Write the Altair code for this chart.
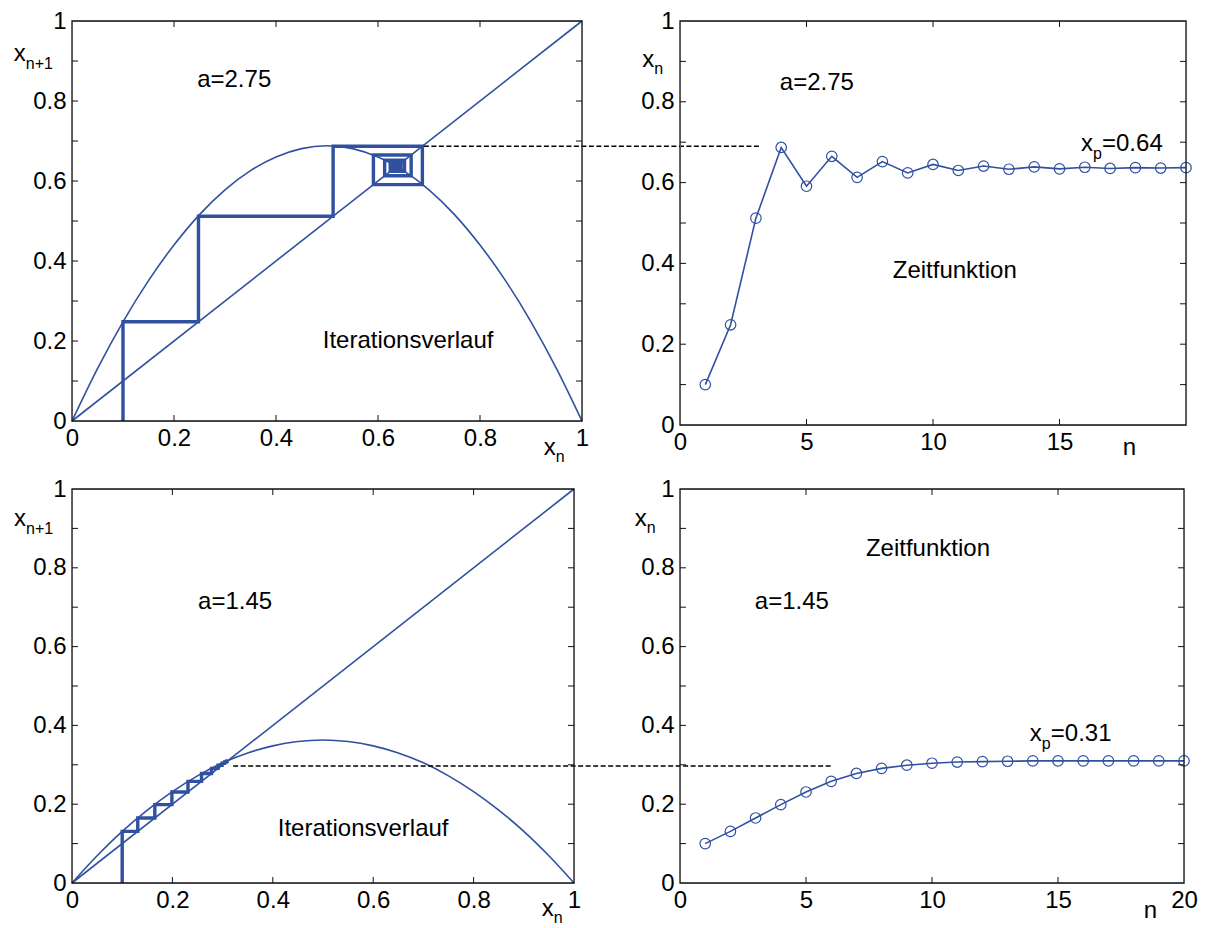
import altair as alt
import pandas as pd

BLUE = "#3050a0"
FONT = "Liberation Sans"
FS = 24      # main font size
FSUB = 16    # subscript size

# ---------------- data ----------------
curve_x = [0, 0.05, 0.1, 0.15, 0.2, 0.25, 0.3, 0.35, 0.4, 0.45, 0.5,
           0.55, 0.6, 0.65, 0.7, 0.75, 0.8, 0.85, 0.9, 0.95, 1.0]
curve_top = [0, 0.131, 0.248, 0.351, 0.44, 0.516, 0.578, 0.626, 0.66, 0.681, 0.688,
             0.681, 0.66, 0.626, 0.578, 0.516, 0.44, 0.351, 0.248, 0.131, 0]
curve_bot = [0, 0.069, 0.131, 0.185, 0.232, 0.272, 0.305, 0.33, 0.348, 0.359, 0.363,
             0.359, 0.348, 0.33, 0.305, 0.272, 0.232, 0.185, 0.131, 0.069, 0]
diag_x = [0, 1]
diag_y = [0, 1]

n_values = list(range(1, 21))
series_top = [0.1, 0.248, 0.512, 0.687, 0.591, 0.665, 0.613, 0.652, 0.624, 0.645,
              0.630, 0.641, 0.633, 0.639, 0.634, 0.638, 0.635, 0.637, 0.636, 0.637]
series_bot = [0.1, 0.131, 0.165, 0.199, 0.231, 0.258, 0.278, 0.291, 0.299, 0.304,
              0.307, 0.308, 0.309, 0.310, 0.310, 0.310, 0.310, 0.310, 0.310, 0.310]

# dashed connector lines (in the left panel's units)
dash_top_x = [0.69, 1.351]
dash_top_y = [0.687, 0.687]
dash_bot_x = [0.321, 1.512]
dash_bot_y = [0.297, 0.297]

map_labels = [0, 0.2, 0.4, 0.6, 0.8, 1]
map_xticks = [0.2, 0.4, 0.6, 0.8]
y_ticks = [0.1, 0.2, 0.3, 0.4, 0.5, 0.6, 0.7, 0.8, 0.9]
ts_labels_top = [0, 5, 10, 15]
ts_labels_bot = [0, 5, 10, 15, 20]
ts_xticks = [5, 10, 15]

# panel sizes
TL_W, TL_H = 510, 400
TR_W, TR_H = 506, 404
BL_W, BL_H = 502, 394
BR_W, BR_H = 504, 394


def enc_x(domain, labels):
    return alt.X("x:Q", scale=alt.Scale(domain=domain, nice=False, zero=False),
                 axis=alt.Axis(values=labels, format="~g", ticks=False, domain=False,
                               grid=False, labelFontSize=FS, labelFont=FONT,
                               labelColor="black", labelPadding=5, labelFlush=False,
                               labelOverlap=False, title=None))


def enc_y():
    return alt.Y("y:Q", scale=alt.Scale(domain=[0, 1], nice=False, zero=False),
                 axis=alt.Axis(values=[0, 0.2, 0.4, 0.6, 0.8, 1], format="~g", ticks=False,
                               domain=False, grid=False, labelFontSize=FS, labelFont=FONT,
                               labelColor="black", labelPadding=6, labelOverlap=False,
                               title=None))


def frame_and_ticks(xt, W, H, X, Y):
    dx = pd.DataFrame({"x": xt})
    dy = pd.DataFrame({"y": y_ticks})
    st = dict(color="#111111", strokeWidth=1)
    box = alt.Chart(pd.DataFrame({"k": [0]})).mark_rect(
        fill=None, stroke="#111111", strokeWidth=1.3).encode(
        x=alt.value(0), x2=alt.value(W), y=alt.value(0), y2=alt.value(H))
    return [
        box,
        alt.Chart(dx).mark_rule(**st).encode(x=X, y=alt.value(H), y2=alt.value(H - 6)),
        alt.Chart(dx).mark_rule(**st).encode(x=X, y=alt.value(0), y2=alt.value(6)),
        alt.Chart(dy).mark_rule(**st).encode(y=Y, x=alt.value(0), x2=alt.value(6)),
        alt.Chart(dy).mark_rule(**st).encode(y=Y, x=alt.value(W), x2=alt.value(W - 6)),
    ]


def text(X, Y, xs, ys, labels, size=FS, align="left", baseline="alphabetic", dx=0, dy=0):
    df = pd.DataFrame({"x": xs, "y": ys, "t": labels})
    return alt.Chart(df).mark_text(font=FONT, fontSize=size, align=align, baseline=baseline,
                                   dx=dx, dy=dy, color="black").encode(x=X, y=Y, text="t:N")


def cobweb_path(s):
    xs, ys = [s[0]], [0.0]
    for i in range(len(s) - 1):
        xs += [s[i], s[i + 1]]
        ys += [s[i + 1], s[i + 1]]
    return pd.DataFrame({"x": xs, "y": ys, "i": list(range(len(xs)))})


def map_panel(curve, series, dash_x, dash_y, W, H, a_txt, a_pos, it_pos, ylab_pos, xlab_pos):
    X = enc_x([0, 1], map_labels)
    Y = enc_y()
    diag = alt.Chart(pd.DataFrame({"x": diag_x, "y": diag_y})).mark_line(
        color=BLUE, strokeWidth=1.6).encode(x=X, y=Y)
    par = alt.Chart(pd.DataFrame({"x": curve_x, "y": curve})).mark_line(
        color=BLUE, strokeWidth=1.6, interpolate="monotone").encode(x=X, y=Y)
    web = alt.Chart(cobweb_path(series)).mark_line(
        color=BLUE, strokeWidth=3.4, strokeJoin="miter").encode(x=X, y=Y, order="i:Q")
    dash = alt.Chart(pd.DataFrame({"x": dash_x, "y": dash_y})).mark_line(
        color="black", strokeWidth=1.6, strokeDash=[5, 2.5], clip=False).encode(x=X, y=Y)
    layers = [diag, par, web, dash] + frame_and_ticks(map_xticks, W, H, X, Y)
    layers += [
        text(X, Y, [a_pos[0]], [a_pos[1]], [a_txt], align="center", baseline="middle"),
        text(X, Y, [it_pos[0]], [it_pos[1]], ["Iterationsverlauf"], align="center", baseline="middle"),
        text(X, Y, [ylab_pos[0]], [ylab_pos[1]], ["x"]),
        text(X, Y, [ylab_pos[0]], [ylab_pos[1]], ["n+1"], size=FSUB, dx=12, dy=8),
        text(X, Y, [xlab_pos[0]], [xlab_pos[1]], ["x"]),
        text(X, Y, [xlab_pos[0]], [xlab_pos[1]], ["n"], size=FSUB, dx=12, dy=7),
    ]
    return alt.layer(*layers).properties(width=W, height=H)


def ts_panel(series, labels, W, H, a_txt, a_pos, z_pos, xp_txt, xp_pos, ylab_pos, n_pos):
    X = enc_x([0, 20], labels)
    Y = enc_y()
    df = pd.DataFrame({"x": n_values, "y": series})
    line = alt.Chart(df).mark_line(color=BLUE, strokeWidth=1.6).encode(x=X, y=Y)
    pts = alt.Chart(df).mark_point(shape="circle", filled=False, color=BLUE, size=110,
                                   strokeWidth=1.2, opacity=1).encode(x=X, y=Y)
    layers = [line, pts] + frame_and_ticks(ts_xticks, W, H, X, Y)
    layers += [
        text(X, Y, [a_pos[0]], [a_pos[1]], [a_txt], align="center", baseline="middle"),
        text(X, Y, [z_pos[0]], [z_pos[1]], ["Zeitfunktion"], align="center", baseline="middle"),
        text(X, Y, [xp_pos[0]], [xp_pos[1]], ["x"]),
        text(X, Y, [xp_pos[0]], [xp_pos[1]], ["p"], size=FSUB, dx=12, dy=8),
        text(X, Y, [xp_pos[0]], [xp_pos[1]], [xp_txt], dx=21),
        text(X, Y, [ylab_pos[0]], [ylab_pos[1]], ["x"]),
        text(X, Y, [ylab_pos[0]], [ylab_pos[1]], ["n"], size=FSUB, dx=12, dy=7),
        text(X, Y, [n_pos[0]], [n_pos[1]], ["n"]),
    ]
    return alt.layer(*layers).properties(width=W, height=H)


tl = map_panel(curve_top, series_top, dash_top_x, dash_top_y, TL_W, TL_H, "a=2.75",
               (0.318, 0.853), (0.659, 0.2), (-0.114, 0.9), (0.925, -0.085))
tr = ts_panel(series_top, ts_labels_top, TR_W, TR_H, "a=2.75", (5.41, 0.847),
              (10.86, 0.381), "=0.64", (15.85, 0.678), (-1.49, 0.886), (17.5, -0.075))
bl = map_panel(curve_bot, series_bot, dash_bot_x, dash_bot_y, BL_W, BL_H, "a=1.45",
               (0.325, 0.713), (0.58, 0.137), (-0.1155, 0.906), (0.936, -0.085))
br = ts_panel(series_bot, ts_labels_bot, BR_W, BR_H, "a=1.45", (4.44, 0.713),
              (9.84, 0.848), "=0.31", (13.88, 0.36), (-1.8, 0.906), (18.4, -0.09))

chart = alt.concat(tl, tr, bl, br, columns=2, spacing={"row": 64, "column": 98},
                   bounds="flush").properties(
    padding={"left": 5, "top": 0, "right": 5, "bottom": 0}
).configure_view(strokeWidth=0).configure(background="white")

chart.save("out.html", embed_options={"renderer": "svg", "actions": False})
